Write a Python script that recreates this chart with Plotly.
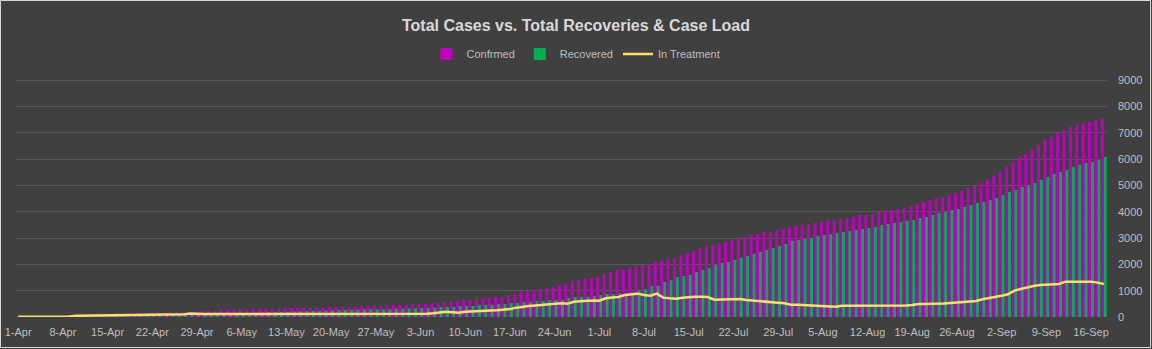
import pandas as pd
import plotly.graph_objects as go

# ---- data ----
start_date = "2020-04-01"
n_days = 171
dates = pd.date_range(start_date, periods=n_days, freq="D")

confirmed = [
    12, 14, 16, 18, 20, 22, 26, 30, 55, 60,
    62, 65, 70, 75, 100, 115, 118, 120, 125, 140,
    142, 150, 155, 160, 185, 188, 190, 192, 195, 225,
    230, 235, 265, 268, 270, 272, 275, 300, 302, 305,
    308, 312, 335, 338, 340, 342, 345, 348, 352, 375,
    378, 380, 382, 385, 395, 415, 418, 418, 420, 455,
    458, 460, 490, 494, 497, 530, 534, 568, 572, 608,
    646, 650, 684, 720, 724, 758, 762, 823, 874, 950,
    988, 1026, 1064, 1102, 1140, 1203, 1254, 1368, 1419, 1444,
    1482, 1520, 1634, 1710, 1786, 1825, 1890, 1940, 1975, 2010,
    2090, 2130, 2200, 2240, 2340, 2430, 2510, 2620, 2700, 2735,
    2775, 2850, 2925, 3000, 3040, 3115, 3150, 3230, 3240, 3305,
    3345, 3420, 3460, 3500, 3535, 3570, 3610, 3650, 3690, 3725,
    3760, 3800, 3875, 3880, 3915, 3990, 4030, 4065, 4105, 4140,
    4220, 4295, 4370, 4445, 4520, 4560, 4635, 4710, 4790, 4900,
    4980, 5090, 5205, 5360, 5550, 5700, 5890, 6080, 6195, 6385,
    6535, 6725, 6840, 6990, 7105, 7220, 7295, 7370, 7410, 7485,
    7525,
]

recovered = [
    0, 0, 0, 0, 2, 3, 4, 5, 8, 10,
    12, 14, 16, 18, 20, 22, 30, 32, 35, 38,
    40, 42, 45, 48, 50, 55, 60, 65, 70, 80,
    90, 95, 100, 105, 110, 130, 150, 165, 175, 185,
    190, 195, 200, 210, 220, 228, 232, 240, 250, 258,
    265, 270, 278, 285, 295, 298, 300, 291, 300, 317,
    320, 325, 330, 335, 340, 355, 380, 382, 385, 418,
    420, 422, 456, 458, 460, 494, 496, 532, 535, 570,
    572, 608, 610, 646, 648, 650, 722, 760, 762, 765,
    798, 836, 874, 876, 900, 900, 940, 1000, 1050, 1180,
    1180, 1330, 1400, 1520, 1560, 1600, 1710, 1790, 1860, 1975,
    2050, 2090, 2165, 2240, 2320, 2395, 2470, 2545, 2620, 2700,
    2775, 2890, 2925, 2965, 3000, 3080, 3115, 3150, 3190, 3230,
    3270, 3305, 3345, 3380, 3420, 3495, 3535, 3570, 3610, 3650,
    3685, 3760, 3800, 3875, 3950, 3990, 4065, 4105, 4180, 4255,
    4330, 4370, 4445, 4520, 4635, 4750, 4825, 4940, 5015, 5090,
    5205, 5320, 5435, 5510, 5585, 5700, 5775, 5850, 5890, 5965,
    6080,
]

in_treatment = [
    10, 10, 12, 12, 14, 14, 16, 18, 20, 45,
    48, 50, 50, 52, 54, 60, 88, 90, 90, 92,
    94, 96, 98, 100, 102, 104, 108, 135, 140, 118,
    115, 115, 118, 120, 118, 116, 115, 118, 120, 118,
    116, 115, 118, 120, 118, 116, 115, 114, 112, 115,
    116, 114, 112, 110, 108, 106, 100, 95, 92, 95,
    98, 100, 105, 110, 120, 140, 170, 200, 180, 165,
    200, 215, 240, 245, 250, 255, 266, 300, 355, 393,
    420, 440, 456, 470, 495, 520, 500, 580, 600, 620,
    622, 620, 710, 740, 760, 836, 860, 887, 836, 811,
    887, 735, 710, 697, 730, 760, 765, 768, 760, 659,
    670, 684, 686, 684, 646, 630, 608, 580, 557, 540,
    519, 468, 465, 456, 445, 431, 425, 400, 393, 431,
    431, 431, 420, 420, 420, 420, 420, 418, 420, 440,
    456, 494, 494, 494, 494, 510, 532, 550, 570, 590,
    608, 671, 709, 747, 811, 861, 1001, 1064, 1127, 1178,
    1216, 1228, 1241, 1254, 1343, 1343, 1343, 1343, 1343, 1305,
    1254,
]

series_names = ["Confrmed", "Recovered", "In Treatment"]
title_text = "Total Cases vs. Total Recoveries & Case Load"
y_ticks = [0, 1000, 2000, 3000, 4000, 5000, 6000, 7000, 8000, 9000]

# ---- styles ----
BG = "#404040"
GRID = "#595959"
TXT = "#BFBFBF"
MAGENTA = "#C000C0"
GREEN = "#00B050"
YELLOW = "#FFDD6E"
FONT = "Liberation Sans, Arial, sans-serif"

fig = go.Figure()
fig.add_trace(go.Bar(x=dates, y=confirmed, name=series_names[0],
                     marker=dict(color=MAGENTA, line=dict(width=0))))
fig.add_trace(go.Bar(x=dates, y=recovered, name=series_names[1],
                     marker=dict(color=GREEN, line=dict(width=0))))
fig.add_trace(go.Scatter(x=dates, y=in_treatment, name=series_names[2], mode="lines",
                         line=dict(color=YELLOW, width=2.5)))

W, H = 1152, 349
L, R, T, B = 15, 45, 79, 32
pw, ph = W - L - R, H - T - B


def px_x(p):
    return (p - L) / pw


def px_y(p):
    return (H - B - p) / ph


tickvals = dates[::7]
fig.update_layout(
    width=W, height=H,
    margin=dict(l=L, r=R, t=T, b=B, pad=0, autoexpand=False),
    paper_bgcolor=BG, plot_bgcolor=BG,
    barmode="group", bargap=0.08, bargroupgap=0.0,
    font=dict(family=FONT, size=11, color=TXT),
    title=dict(text=title_text, x=0.5, xanchor="center", xref="container",
               y=1 - 25 / H, yanchor="middle",
               font=dict(family="Liberation Sans, Arial", size=16,
                         color="#D9D9D9", weight="bold")),
    legend=dict(orientation="h", xref="paper", x=px_x(576), xanchor="center",
                yref="paper", y=px_y(54), yanchor="middle",
                font=dict(family=FONT, size=11, color=TXT),
                bgcolor="rgba(0,0,0,0)", itemwidth=30, tracegroupgap=0),
    showlegend=True,
    xaxis=dict(type="date",
               range=[dates[0] - pd.Timedelta(hours=12), dates[-1] + pd.Timedelta(hours=12)],
               tickmode="array", tickvals=tickvals,
               ticktext=[f"{d.day}-{d.strftime('%b')}" for d in tickvals],
               showgrid=False, zeroline=False, showline=False, ticks="",
               tickfont=dict(family=FONT, size=11, color=TXT), ticklabelstandoff=7),
    yaxis=dict(side="right", range=[0, 9040], tickmode="array", tickvals=y_ticks,
               showgrid=True, gridcolor=GRID, gridwidth=1, zeroline=False,
               showline=False, ticks="", tickfont=dict(family=FONT, size=11, color=TXT),
               ticklabelstandoff=10),
)

# thin chart-area border
fig.add_shape(type="rect", xref="paper", yref="paper",
              x0=px_x(0.5), x1=px_x(1150.5), y0=px_y(347.5), y1=px_y(0.5),
              line=dict(color="#D9D9D9", width=1), layer="below")

fig.write_html("out.html")
